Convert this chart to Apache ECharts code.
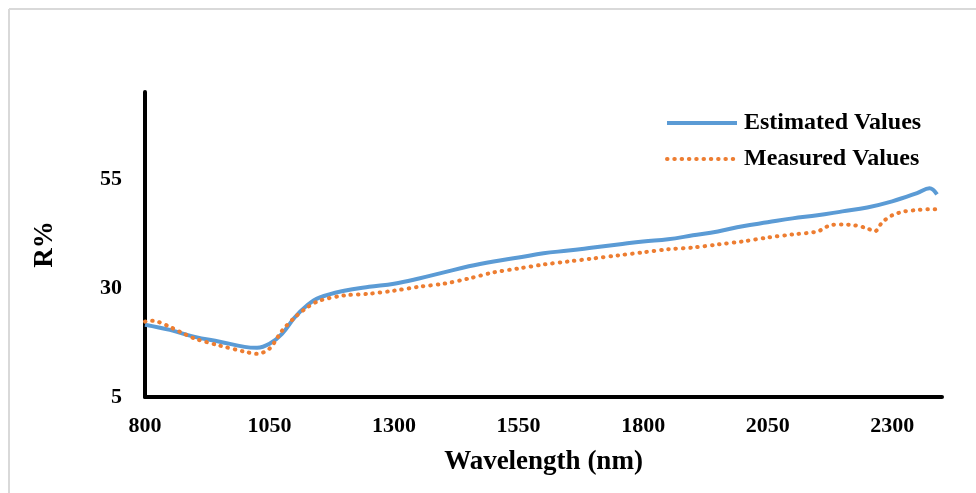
<!DOCTYPE html>
<html>
<head>
<meta charset="utf-8">
<script src="https://cdn.jsdelivr.net/npm/echarts@6/dist/echarts.min.js"></script>
<style>html,body{margin:0;padding:0;background:#fff;}#chart{width:976px;height:493px;}</style>
</head>
<body>
<div id="chart"></div>
<script>
var estWavelength = [800,850,900,950,1000,1025,1050,1075,1100,1125,1150,1200,1250,1300,1350,1400,1450,1500,1550,1600,1650,1700,1750,1800,1850,1900,1950,2000,2050,2100,2150,2200,2250,2300,2350,2375,2390];
var estimatedValues = [21.6,20.4,18.8,17.7,16.5,16.3,17.2,19.5,23.2,26.0,27.8,29.4,30.3,31.0,32.2,33.6,35.0,36.1,37.0,38.0,38.6,39.3,40.0,40.7,41.2,42.1,43.0,44.2,45.1,46.0,46.7,47.6,48.5,49.9,51.8,52.9,51.5];
var measWavelength = [800,810,825,850,875,900,950,1000,1025,1050,1075,1100,1125,1150,1200,1250,1300,1350,1400,1450,1500,1550,1600,1650,1700,1750,1800,1850,1900,1950,2000,2050,2100,2150,2175,2200,2225,2250,2265,2280,2300,2325,2350,2375,2390];
var measuredValues = [22.3,22.5,22.3,21.1,19.7,18.4,16.8,15.4,14.9,16.1,20.2,23.2,25.5,27.1,28.3,28.7,29.4,30.3,31.0,32.2,33.6,34.5,35.4,36.1,36.8,37.5,38.2,38.9,39.3,40.0,40.7,41.6,42.3,43.0,44.4,44.6,44.4,43.7,43.0,45.1,46.7,47.6,47.9,48.1,48.1];
var seriesNames = ['Estimated Values','Measured Values'];
var xAxisTitle = 'Wavelength (nm)';
var yAxisTitle = 'R%';

function zip(a, b) { return a.map(function (x, i) { return [x, b[i]]; }); }

var font = 'Liberation Serif';
var chart = echarts.init(document.getElementById('chart'), null, {renderer: 'canvas'});
chart.setOption({
  animation: false,
  backgroundColor: '#fff',
  graphic: [
    {type: 'line', shape: {x1: 9, y1: 9, x2: 976, y2: 9}, style: {stroke: '#d9d9d9', lineWidth: 2}},
    {type: 'line', shape: {x1: 9, y1: 9, x2: 9, y2: 493}, style: {stroke: '#d9d9d9', lineWidth: 2}}
  ],
  grid: {left: 145, right: 34, top: 92, bottom: 96},
  legend: {
    orient: 'vertical', left: 660, top: 106, itemWidth: 70, itemHeight: 14, itemGap: 12,
    itemStyle: {opacity: 0},
    lineStyle: {width: 4},
    textStyle: {fontFamily: font, fontWeight: 'bold', fontSize: 24, color: '#000', padding: [0, 0, 0, 2]},
    data: seriesNames
  },
  xAxis: {
    type: 'value', min: 800, max: 2400, interval: 250,
    name: xAxisTitle, nameLocation: 'middle', nameGap: 52,
    nameTextStyle: {fontFamily: font, fontWeight: 'bold', fontSize: 27, color: '#000'},
    axisLine: {lineStyle: {color: '#000', width: 4}},
    axisTick: {show: false}, splitLine: {show: false},
    axisLabel: {showMaxLabel: false, margin: 18, formatter: function (v) { return String(v); },
      fontFamily: font, fontWeight: 'bold', fontSize: 22, color: '#000'}
  },
  yAxis: {
    type: 'value', min: 5, max: 75, interval: 25,
    name: yAxisTitle, nameLocation: 'middle', nameGap: 86,
    nameTextStyle: {fontFamily: font, fontWeight: 'bold', fontSize: 27, color: '#000'},
    axisLine: {lineStyle: {color: '#000', width: 4}},
    axisTick: {show: false}, splitLine: {show: false},
    axisLabel: {showMaxLabel: false, margin: 23, formatter: function (v) { return String(v); },
      fontFamily: font, fontWeight: 'bold', fontSize: 22, color: '#000'}
  },
  series: [
    {
      name: seriesNames[0], type: 'line', data: zip(estWavelength, estimatedValues),
      smooth: 0.4, symbol: 'none',
      lineStyle: {color: '#5B9BD5', width: 4}, itemStyle: {color: '#5B9BD5'}
    },
    {
      name: seriesNames[1], type: 'line', data: zip(measWavelength, measuredValues),
      smooth: 0.3, symbol: 'none',
      lineStyle: {color: '#ED7D31', width: 4, type: [0.5, 6.8], cap: 'round'}, itemStyle: {color: '#ED7D31'}
    }
  ]
});
</script>
</body>
</html>
